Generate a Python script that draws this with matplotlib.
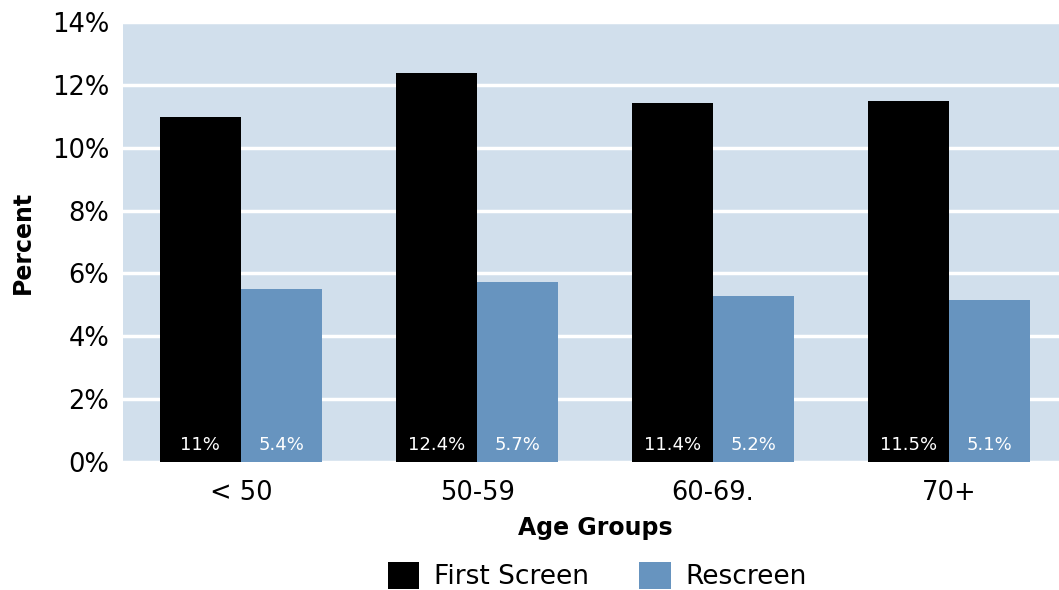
import matplotlib
matplotlib.use("Agg")
import matplotlib.pyplot as plt
import numpy as np
from matplotlib.ticker import FuncFormatter

categories = ["< 50", "50-59", "60-69.", "70+"]
first_screen = [10.98, 12.38, 11.42, 11.49]
rescreen = [5.5, 5.72, 5.28, 5.15]
first_labels = ["11%", "12.4%", "11.4%", "11.5%"]
rescreen_labels = ["5.4%", "5.7%", "5.2%", "5.1%"]
yticks = [0, 2, 4, 6, 8, 10, 12, 14]

plt.rcParams['font.family'] = ['DejaVu Sans']

fig = plt.figure(figsize=(10.59, 5.90), dpi=100)
ax = fig.add_axes([123/1059, 1-462/590, 944/1059, (462-22)/590])
ax.set_facecolor('#D1DFEC')

x = np.arange(len(categories))
w = 0.345
b1 = ax.bar(x - w/2, first_screen, w, color='black', label='First Screen', zorder=3)
b2 = ax.bar(x + w/2, rescreen, w, color='#6794BF', label='Rescreen', zorder=3)

for xi, lab in zip(x - w/2, first_labels):
    ax.text(xi, 0.55, lab, color='white', ha='center', va='center', fontsize=13, zorder=4)
for xi, lab in zip(x + w/2, rescreen_labels):
    ax.text(xi, 0.55, lab, color='white', ha='center', va='center', fontsize=13, zorder=4)

ax.set_xlim(-0.5, len(categories) - 0.5)
ax.set_ylim(0, 14)
ax.set_yticks(yticks)
ax.yaxis.set_major_formatter(FuncFormatter(lambda v, p: f"{int(v)}%"))
ax.grid(axis='y', color='white', linewidth=2.5, zorder=1)
ax.set_axisbelow(True)
for s in ax.spines.values():
    s.set_visible(False)
ax.tick_params(axis='both', length=0, labelsize=18.5, colors='black')
ax.tick_params(axis='y', pad=10)
ax.tick_params(axis='x', pad=13)
ax.set_xticks(x)
ax.set_xticklabels(categories)

ax.set_xlabel("Age Groups", fontsize=17, fontweight='bold', labelpad=7)
ax.set_ylabel("Percent", fontsize=17, fontweight='bold', labelpad=12)

fig.legend(handles=[b1, b2], labels=['First Screen', 'Rescreen'], loc='center',
           bbox_to_anchor=(597/1059, 1-576/590), ncol=2, frameon=False, fontsize=19,
           handlelength=1.2, handleheight=1.2, columnspacing=1.9, handletextpad=0.55)

fig.savefig("out.png", dpi=100)
